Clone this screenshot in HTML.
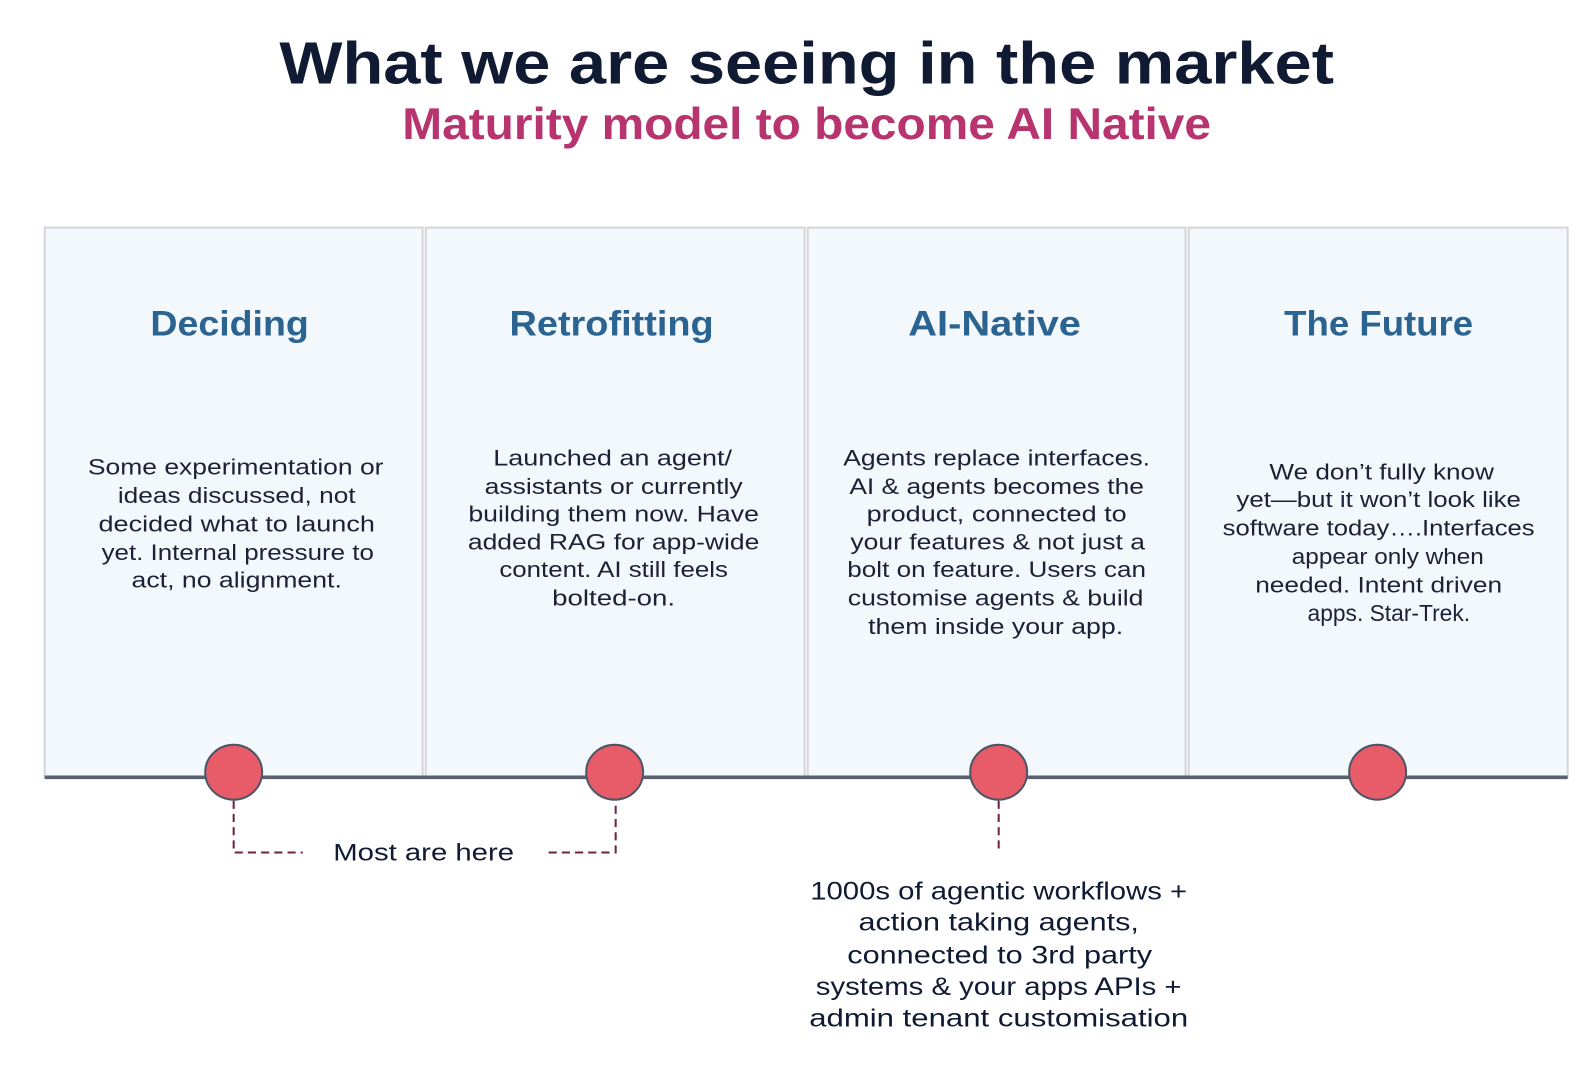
<!DOCTYPE html>
<html><head><meta charset="utf-8"><style>
html,body{margin:0;padding:0;background:#fff;}
svg{display:block;}
text{font-family:"Liberation Sans",sans-serif;}
</style></head><body>
<svg width="1592" height="1072" viewBox="0 0 1567 1055" preserveAspectRatio="none" xmlns="http://www.w3.org/2000/svg">
<rect width="1567" height="1055" fill="#fff"/>
<text x="794" y="82" font-size="58" font-weight="bold" fill="#111a33" text-anchor="middle" textLength="1038" lengthAdjust="spacingAndGlyphs">What we are seeing in the market</text>
<text x="794" y="137" font-size="44" font-weight="bold" fill="#b8346f" text-anchor="middle" textLength="796" lengthAdjust="spacingAndGlyphs">Maturity model to become AI Native</text>

<g fill="#f3f8fc" stroke="#d3d5d9" stroke-width="2">
<rect x="44" y="224" width="372" height="541"/>
<rect x="419" y="224" width="373" height="541"/>
<rect x="795" y="224" width="372" height="541"/>
<rect x="1170" y="224" width="373" height="541"/>
</g>

<g font-size="35" font-weight="bold" fill="#2b6391" text-anchor="middle">
<text x="226" y="330" textLength="156" lengthAdjust="spacingAndGlyphs">Deciding</text>
<text x="602" y="330" textLength="201" lengthAdjust="spacingAndGlyphs">Retrofitting</text>
<text x="979" y="330" textLength="170" lengthAdjust="spacingAndGlyphs">AI-Native</text>
<text x="1357" y="330" textLength="186" lengthAdjust="spacingAndGlyphs">The Future</text>
</g>

<g font-size="22" fill="#1e2035" text-anchor="middle">
<text x="232" y="467" textLength="291" lengthAdjust="spacingAndGlyphs">Some experimentation or</text>
<text x="233" y="495" textLength="234" lengthAdjust="spacingAndGlyphs">ideas discussed, not</text>
<text x="233" y="523" textLength="272" lengthAdjust="spacingAndGlyphs">decided what to launch</text>
<text x="234" y="551" textLength="268" lengthAdjust="spacingAndGlyphs">yet. Internal pressure to</text>
<text x="233" y="578" textLength="207" lengthAdjust="spacingAndGlyphs">act, no alignment.</text>

<text x="603" y="458" textLength="235" lengthAdjust="spacingAndGlyphs">Launched an agent/</text>
<text x="604" y="486" textLength="254" lengthAdjust="spacingAndGlyphs">assistants or currently</text>
<text x="604" y="513" textLength="286" lengthAdjust="spacingAndGlyphs">building them now. Have</text>
<text x="604" y="541" textLength="287" lengthAdjust="spacingAndGlyphs">added RAG for app-wide</text>
<text x="604" y="568" textLength="225" lengthAdjust="spacingAndGlyphs">content. AI still feels</text>
<text x="604" y="596" textLength="121" lengthAdjust="spacingAndGlyphs">bolted-on.</text>

<text x="981" y="458" textLength="302" lengthAdjust="spacingAndGlyphs">Agents replace interfaces.</text>
<text x="981" y="486" textLength="290" lengthAdjust="spacingAndGlyphs">AI &amp; agents becomes the</text>
<text x="981" y="513" textLength="256" lengthAdjust="spacingAndGlyphs">product, connected to</text>
<text x="982" y="541" textLength="290" lengthAdjust="spacingAndGlyphs">your features &amp; not just a</text>
<text x="981" y="568" textLength="294" lengthAdjust="spacingAndGlyphs">bolt on feature. Users can</text>
<text x="980" y="596" textLength="291" lengthAdjust="spacingAndGlyphs">customise agents &amp; build</text>
<text x="980" y="624" textLength="251" lengthAdjust="spacingAndGlyphs">them inside your app.</text>

<text x="1360" y="472" textLength="221" lengthAdjust="spacingAndGlyphs">We don’t fully know</text>
<text x="1357" y="499" textLength="280" lengthAdjust="spacingAndGlyphs">yet—but it won’t look like</text>
<text x="1357" y="527" textLength="307" lengthAdjust="spacingAndGlyphs">software today….Interfaces</text>
<text x="1366" y="555" textLength="189" lengthAdjust="spacingAndGlyphs">appear only when</text>
<text x="1357" y="583" textLength="243" lengthAdjust="spacingAndGlyphs">needed. Intent driven</text>
<text x="1367" y="611" font-size="23" textLength="160" lengthAdjust="spacingAndGlyphs">apps. Star-Trek.</text>
</g>

<line x1="44" y1="765" x2="1543" y2="765" stroke="#596070" stroke-width="3.5"/>

<g fill="none" stroke="#6e2244" stroke-width="2" stroke-dasharray="8 5">
<path d="M230 788 V839 H298"/>
<path d="M540 839 H606 V788"/>
<path d="M983 788 V838"/>
</g>

<g fill="#e85c6a" stroke="#4d5566" stroke-width="2">
<ellipse cx="230" cy="760" rx="28" ry="27"/>
<ellipse cx="605" cy="760" rx="28" ry="27"/>
<ellipse cx="983" cy="760" rx="28" ry="27"/>
<ellipse cx="1356" cy="760" rx="28" ry="27"/>
</g>

<text x="417" y="847" font-size="24" fill="#111a33" text-anchor="middle" textLength="178" lengthAdjust="spacingAndGlyphs">Most are here</text>

<g font-size="25" fill="#111a33" text-anchor="middle">
<text x="983" y="885" textLength="371" lengthAdjust="spacingAndGlyphs">1000s of agentic workflows +</text>
<text x="983" y="916" textLength="276" lengthAdjust="spacingAndGlyphs">action taking agents,</text>
<text x="984" y="948" textLength="300" lengthAdjust="spacingAndGlyphs">connected to 3rd party</text>
<text x="983" y="979" textLength="360" lengthAdjust="spacingAndGlyphs">systems &amp; your apps APIs +</text>
<text x="983" y="1010" textLength="373" lengthAdjust="spacingAndGlyphs">admin tenant customisation</text>
</g>
</svg>
</body></html>
